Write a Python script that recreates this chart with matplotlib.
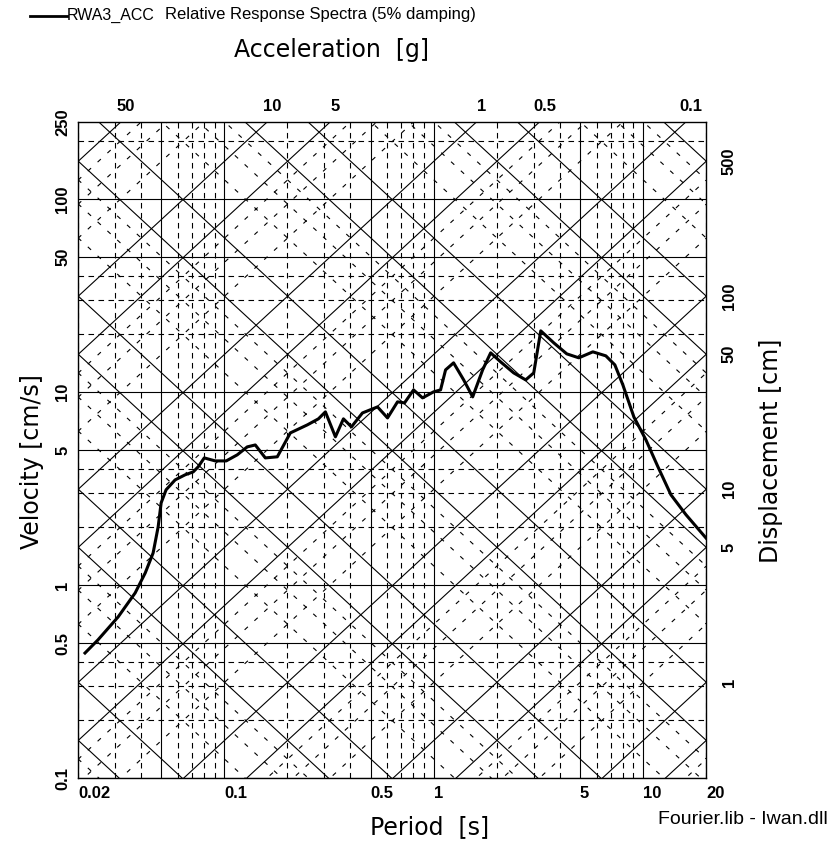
import numpy as np
import matplotlib
matplotlib.use("Agg")
import matplotlib.pyplot as plt
from matplotlib import transforms
from matplotlib.lines import Line2D

plt.rcParams['font.family'] = ['Liberation Sans', 'DejaVu Sans']

# RWA3_ACC pseudo-velocity spectrum
period = [0.0216, 0.0249, 0.0311, 0.0375, 0.0419, 0.0457, 0.0483, 0.0499, 0.0527,
          0.0582, 0.0650, 0.0710, 0.0750, 0.0802, 0.0905, 0.1021, 0.1153, 0.1287,
          0.1406, 0.1570, 0.1791, 0.2067, 0.2494, 0.2815, 0.3040, 0.3394, 0.3707,
          0.4049, 0.4570, 0.5393, 0.6020, 0.6720, 0.7258, 0.8017, 0.8850, 0.9988,
          1.079, 1.140, 1.245, 1.391, 1.536, 1.714, 1.872, 2.090, 2.412, 2.752,
          3.007, 3.248, 3.748, 4.324, 4.936, 5.760, 6.646, 7.339, 8.014, 9.046,
          10.33, 11.79, 13.60, 16.05, 20.0]
velocity = [0.444, 0.519, 0.683, 0.909, 1.154, 1.465, 2.00, 2.66, 3.11,
            3.50, 3.72, 3.85, 4.09, 4.55, 4.39, 4.39, 4.72, 5.19,
            5.31, 4.55, 4.61, 6.13, 6.75, 7.25, 7.88, 5.85, 7.25,
            6.59, 7.78, 8.36, 7.33, 8.88, 8.77, 10.24, 9.31, 10.0,
            10.24, 13.0, 14.14, 11.54, 9.42, 13.0, 15.93, 14.30, 12.54, 11.54,
            12.54, 20.71, 17.95, 15.74, 15.01, 16.12, 15.37, 13.80, 10.87, 7.42,
            5.64, 4.09, 2.93, 2.31, 1.75]

t_lim = (0.02, 20)
v_lim = (0.1, 250)

period_ticks = [0.02, 0.1, 0.5, 1, 5, 10, 20]
period_labels = ["0.02", "0.1", "0.5", "1", "5", "10", "20"]
vel_ticks = [0.1, 0.5, 1, 5, 10, 50, 100, 250]
vel_labels = ["0.1", "0.5", "1", "5", "10", "50", "100", "250"]
disp_ticks = [1, 5, 10, 50, 100, 500]
disp_labels = ["1", "5", "10", "50", "100", "500"]
acc_ticks = [50, 10, 5, 1, 0.5, 0.1]
acc_labels = ["50", "10", "5", "1", "0.5", "0.1"]

G = 981.0  # cm/s^2
decades = [10.0 ** k for k in range(-5, 4)]

fig = plt.figure(figsize=(8.35, 8.56), dpi=100)
W, H = 835.0, 856.0
x0, x1, y0, y1 = 78, 706, 122, 778
ax = fig.add_axes([x0 / W, 1 - y1 / H, (x1 - x0) / W, (y1 - y0) / H])
ax.set_xscale("log")
ax.set_yscale("log")
ax.set_xlim(*t_lim)
ax.set_ylim(*v_lim)
ax.set_xticks([])
ax.set_yticks([])
ax.minorticks_off()
for s in ax.spines.values():
    s.set_linewidth(1.0)

solid = dict(color="k", lw=0.8, zorder=1)
dash_hv = dict(color="k", lw=0.8, ls=(0, (5, 4)), zorder=1)
dash_dg = dict(color="k", lw=0.8, ls=(0, (4, 8)), zorder=1)

# horizontal / vertical grid
for d in decades:
    for m in (1, 5):
        ax.axhline(m * d, **solid)
        ax.axvline(m * d, **solid)
    for m in (2, 3, 4):
        ax.axhline(m * d, **dash_hv)
    for m in (2, 3, 4, 6, 7, 8, 9):
        ax.axvline(m * d, **dash_hv)

# diagonal grid: constant displacement and constant acceleration
tt = np.array(t_lim)
for d in decades:
    for m, kw in ((1, solid), (5, solid), (2, dash_dg), (3, dash_dg), (4, dash_dg)):
        D = m * d
        ax.plot(tt, 2 * np.pi * D / tt, **kw)
        A = m * d
        ax.plot(tt, A * G * tt / (2 * np.pi), **kw)

ax.plot(period, velocity, color="k", lw=2.2, zorder=3)

tick_font = dict(fontsize=12, fontweight="bold")
bx = transforms.blended_transform_factory(ax.transData, ax.transAxes)
by = transforms.blended_transform_factory(ax.transAxes, ax.transData)
bx_top = transforms.offset_copy(bx, fig=fig, x=5, units="dots")
for t, lab in zip(period_ticks, period_labels):
    ax.text(t, -0.012, lab, transform=bx, ha="left", va="top", **tick_font)
for v, lab in zip(vel_ticks, vel_labels):
    ax.text(-0.012, v, lab, transform=by, ha="right", va="center",
            rotation=90, **tick_font)
for D, lab in zip(disp_ticks, disp_labels):
    v = 2 * np.pi * D / t_lim[1]
    ax.text(1.025, v, lab, transform=by, ha="left", va="center",
            rotation=90, **tick_font)
for A, lab in zip(acc_ticks, acc_labels):
    t = 2 * np.pi * v_lim[1] / (A * G)
    ax.text(t, 1.012, lab, transform=bx_top, ha="center", va="bottom", **tick_font)

# legend line and titles
fig.add_artist(Line2D([30 / W, 67 / W], [1 - 16 / H, 1 - 16 / H], color="k", lw=2))
fig.text(67 / W, 1 - 15 / H, "RWA3_ACC", fontsize=11.5, va="center")
fig.text(165 / W, 1 - 15 / H, "Relative Response Spectra (5% damping)",
         fontsize=12, va="center")

title_font = dict(fontsize=17, family="DejaVu Sans", ha="center", va="center")
fig.text(331 / W, 1 - 50 / H, "Acceleration  [g]", **title_font)
fig.text(430 / W, 1 - 827 / H, "Period  [s]", **title_font)
fig.text(32 / W, 1 - 462 / H, "Velocity [cm/s]", rotation=90, **title_font)
fig.text(771 / W, 1 - 451 / H, "Displacement [cm]", rotation=90, **title_font)
fig.text(658 / W, 1 - 820 / H, "Fourier.lib - Iwan.dll", fontsize=14, va="center")

fig.savefig("out.png", dpi=100)
